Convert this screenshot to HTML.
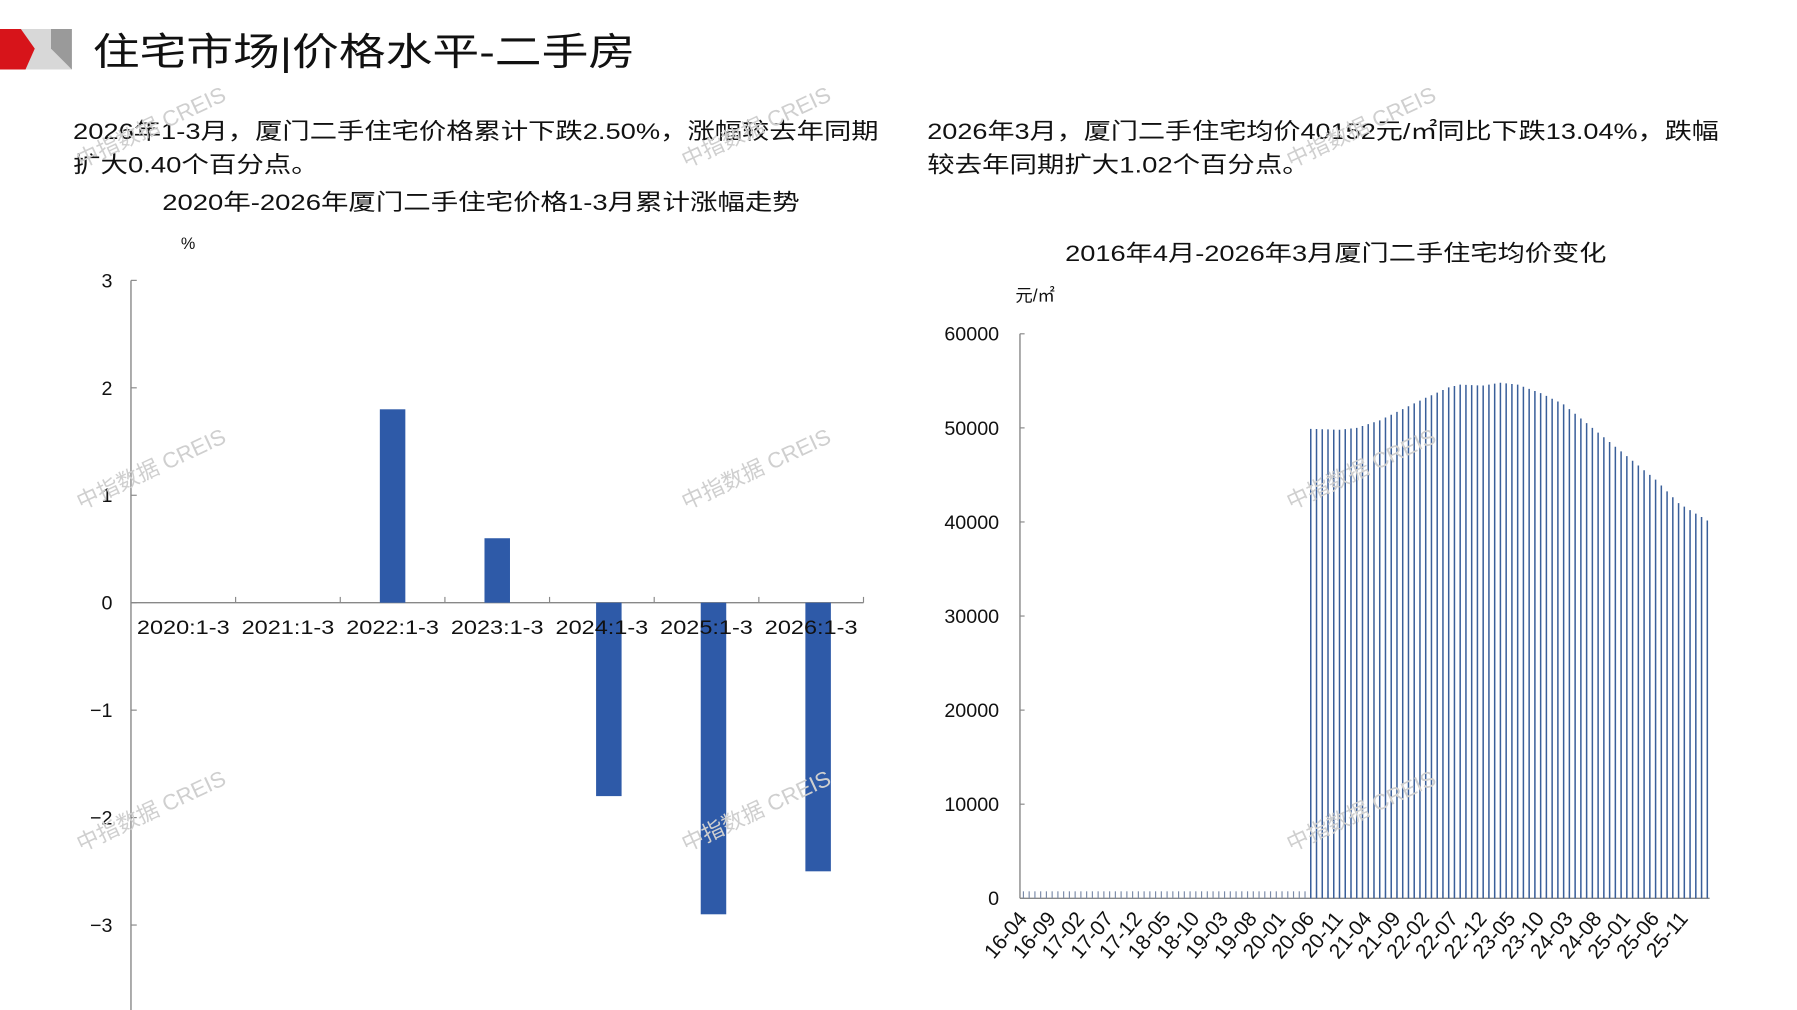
<!DOCTYPE html>
<html><head><meta charset="utf-8"><style>
html,body{margin:0;padding:0;background:#fff;}
svg{display:block;}
text{font-family:"Liberation Sans","Noto Sans CJK SC",sans-serif;fill:#111;}
.wm{fill:#cfcfcf;font-size:19px;}
</style></head><body>
<svg id="s" width="1797" height="1010" viewBox="0 0 1550.4 871.4" preserveAspectRatio="none" xmlns="http://www.w3.org/2000/svg">
<rect width="1550.4" height="871.4" fill="#fff"/>
<polygon points="14,25 62,25 62,60 14,60" fill="#d8d8d8"/>
<polygon points="44,25 62,25 62,60 44,42" fill="#9a9a9a"/>
<polygon points="0,25 18,25 30,42 22,60 0,60" fill="#d7141a"/>
<text x="80" y="56" font-size="33" textLength="468" lengthAdjust="spacingAndGlyphs">住宅市场|价格水平-二手房</text>
<text x="63" y="120" font-size="19.5" textLength="695" lengthAdjust="spacingAndGlyphs">2026年1-3月，厦门二手住宅价格累计下跌2.50%，涨幅较去年同期</text>
<text x="63" y="149" font-size="19.5" textLength="212" lengthAdjust="spacingAndGlyphs">扩大0.40个百分点。</text>
<text x="800" y="120" font-size="19.5" textLength="683" lengthAdjust="spacingAndGlyphs">2026年3月，厦门二手住宅均价40152元/㎡同比下跌13.04%，跌幅</text>
<text x="800" y="149" font-size="19.5" textLength="330" lengthAdjust="spacingAndGlyphs">较去年同期扩大1.02个百分点。</text>
<text x="140" y="181" font-size="19.5" textLength="550" lengthAdjust="spacingAndGlyphs">2020年-2026年厦门二手住宅价格1-3月累计涨幅走势</text>
<text x="156" y="215" font-size="14">%</text>
<g id="left"></g>
<text x="919" y="225" font-size="19.5" textLength="467" lengthAdjust="spacingAndGlyphs">2016年4月-2026年3月厦门二手住宅均价变化</text>
<text x="876" y="260" font-size="15">元/㎡</text>
<g id="right"></g>
<g id="wm"></g>
</svg>
<script>
var NS="http://www.w3.org/2000/svg";
function el(p,t,a,txt){var e=document.createElementNS(NS,t);for(var k in a)e.setAttribute(k,a[k]);if(txt!=null)e.textContent=txt;document.getElementById(p).appendChild(e);return e;}
var ax=113,y0=520,u=92.7;
el("left","line",{x1:ax,y1:242,x2:ax,y2:880,stroke:"#888","stroke-width":1.2});
el("left","line",{x1:ax,y1:y0,x2:745,y2:y0,stroke:"#888","stroke-width":1.2});
[3,2,1,0,-1,-2,-3].forEach(function(v){var y=y0-v*u;el("left","line",{x1:ax,y1:y,x2:ax+5,y2:y,stroke:"#888"});
el("left","text",{x:97,y:y+6,"font-size":17,"text-anchor":"end"},v<0?"−"+(-v):String(v));});
var cw=(745-ax)/7,vals=[0,0,1.8,0.6,-1.8,-2.9,-2.5];
for(var i=0;i<7;i++){var x=ax+cw*(i+1);el("left","line",{x1:x,y1:y0,x2:x,y2:y0-5,stroke:"#888"});
var c=ax+cw*(i+0.5);var v=vals[i];
if(v!=0){var h=Math.abs(v)*u;el("left","rect",{x:c+(i>=4?2:-4)-7,y:v>0?y0-h:y0,width:22,height:h,fill:"#2e5aa8"});}
el("left","text",{x:c,y:547,"font-size":17,"text-anchor":"middle",textLength:80,lengthAdjust:"spacingAndGlyphs"},(2020+i)+":1-3");}
var rx=880,r0=775,ru=(775-288)/60000;
el("right","line",{x1:rx,y1:288,x2:rx,y2:r0,stroke:"#888","stroke-width":1.2});
el("right","line",{x1:rx,y1:r0,x2:1475,y2:r0,stroke:"#888","stroke-width":1.2});
for(var k=0;k<=6;k++){var y=r0-k*10000*ru;el("right","line",{x1:rx,y1:y,x2:rx+4,y2:y,stroke:"#888"});
el("right","text",{x:862,y:y+6,"font-size":17,"text-anchor":"end"},String(k*10000));}
var kp=[[50,49900],[55,49800],[58,50000],[62,50800],[66,52000],[70,53200],[74,54300],[76,54600],[80,54500],[83,54800],[86,54600],[90,53700],[94,52500],[98,50500],[102,48500],[106,46500],[110,44500],[114,42000],[119,40152]];
function val(i){for(var j=0;j<kp.length-1;j++){if(i>=kp[j][0]&&i<=kp[j+1][0]){var t=(i-kp[j][0])/(kp[j+1][0]-kp[j][0]);return kp[j][1]+t*(kp[j+1][1]-kp[j][1]);}}return 0;}
var mw=(1475-rx)/120;
for(var i=0;i<120;i++){var x=rx+mw*(i+0.6);
el("right","line",{x1:x,y1:r0,x2:x,y2:r0-6,stroke:"#7a8aa8","stroke-width":1});
if(i>=50){el("right","line",{x1:x,y1:r0,x2:x,y2:r0-val(i)*ru,stroke:"#3a5f9a","stroke-width":1.3});}
if(i%5==0&&i<=115){var yy=16+Math.floor((i+3)/12),mm=((i+3)%12)+1;var lab=yy+"-"+(mm<10?"0":"")+mm;
el("right","text",{x:x+4,y:793,"font-size":18,"text-anchor":"end",transform:"rotate(-50 "+(x+4)+" 793)"},lab);}}
[[70,440],[592,440],[1114,440],[70,735],[592,735],[1114,735],[70,145],[592,145],[1114,145]].forEach(function(p){
el("wm","text",{x:p[0],y:p[1],class:"wm",transform:"rotate(-25 "+p[0]+" "+p[1]+")"},"中指数据 CREIS");});
</script>
</body></html>
